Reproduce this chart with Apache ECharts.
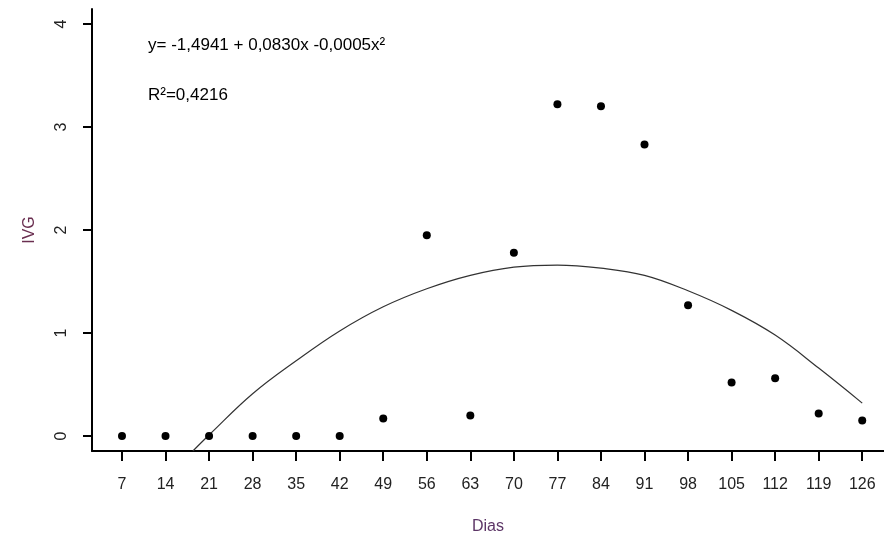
<!DOCTYPE html>
<html>
<head>
<meta charset="utf-8">
<script src="https://cdn.jsdelivr.net/npm/echarts@6/dist/echarts.min.js"></script>
<style>
html,body{margin:0;padding:0;background:#fff;}
#chart{width:884px;height:540px;}
</style>
</head>
<body>
<div id="chart"></div>
<script>
// Observed data
const dias = [7,14,21,28,35,42,49,56,63,70,77,84,91,98,105,112,119,126];
const ivg  = [0,0,0,0,0,0,0.17,1.95,0.20,1.78,3.22,3.20,2.83,1.27,0.52,0.56,0.22,0.15];
// Fitted curve
const fitX = [18.4,21,28,35,42,49,56,63,70,77,84,91,98,105,112,119,126];
const fitY = [-0.145,0.01,0.41,0.73,1.02,1.255,1.43,1.56,1.64,1.66,1.63,1.56,1.41,1.22,0.98,0.66,0.32];
const yTicks = [0,1,2,3,4];
const equation = 'y= -1,4941 + 0,0830x -0,0005x\u00B2';
const r2Text = 'R\u00B2=0,4216';

const chart = echarts.init(document.getElementById('chart'));
const font = 'Liberation Sans, Arial, sans-serif';
chart.setOption({
  animation:false,
  backgroundColor:'#fff',
  grid:{left:92,right:0,top:9,bottom:87},
  xAxis:{
    type:'value', min:2.18, max:129.5,
    name:'Dias', nameLocation:'middle', nameGap:68,
    nameTextStyle:{color:'#5c3566',fontSize:16,fontFamily:font},
    axisLine:{show:true,onZero:false,lineStyle:{color:'#000',width:2}},
    axisTick:{show:true,customValues:dias,length:10,inside:false,lineStyle:{color:'#000',width:2}},
    axisLabel:{customValues:dias,margin:26,color:'#222',fontSize:16,fontFamily:font},
    splitLine:{show:false}
  },
  yAxis:{
    type:'value', min:-0.145, max:4.145,
    name:'IVG', nameLocation:'middle', nameGap:54, nameRotate:90,
    nameTextStyle:{color:'#6a2e50',fontSize:16,fontFamily:font},
    axisLine:{show:true,onZero:false,lineStyle:{color:'#000',width:2}},
    axisTick:{show:true,customValues:yTicks,length:9,lineStyle:{color:'#000',width:2}},
    axisLabel:{customValues:yTicks,rotate:90,margin:22,color:'#222',fontSize:16,fontFamily:font},
    splitLine:{show:false}
  },
  graphic:[
    {type:'text',left:148,top:37,style:{text:equation,fill:'#000',fontSize:17,fontFamily:font}},
    {type:'text',left:148,top:87,style:{text:r2Text,fill:'#000',fontSize:17,fontFamily:font}}
  ],
  series:[
    {type:'line',data:fitX.map((x,i)=>[x,fitY[i]]),smooth:0.4,showSymbol:false,clip:true,
     lineStyle:{color:'#333',width:1.2},z:2},
    {type:'scatter',data:dias.map((x,i)=>[x,ivg[i]]),symbol:'circle',symbolSize:8,
     itemStyle:{color:'#000',opacity:1},z:3}
  ]
});
</script>
</body>
</html>
